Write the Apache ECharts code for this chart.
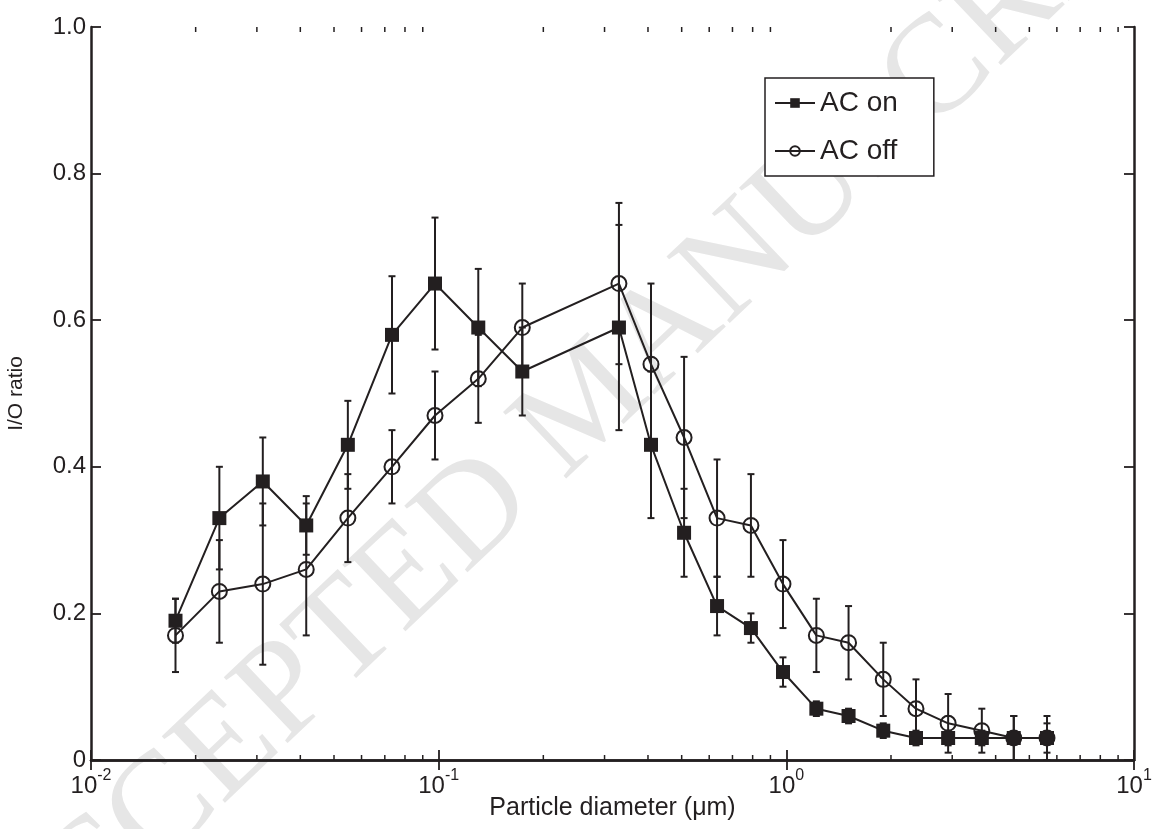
<!DOCTYPE html>
<html>
<head>
<meta charset="utf-8">
<script src="https://cdn.jsdelivr.net/npm/echarts@6/dist/echarts.min.js"></script>
<style>
html,body{margin:0;padding:0;background:#fff;}
#chart{width:1152px;height:829px;}
</style>
</head>
<body>
<div id="chart"></div>
<script>
// Particle diameters (µm)
const diameters = [0.0175, 0.0234, 0.0312, 0.0416, 0.0548, 0.0734, 0.0976, 0.130, 0.174,
  0.330, 0.408, 0.508, 0.632, 0.791, 0.978, 1.22, 1.51, 1.90, 2.36, 2.92, 3.65, 4.51, 5.62];

// AC on: I/O ratio and error-bar limits
const acOn     = [0.19, 0.33, 0.38, 0.32, 0.43, 0.58, 0.65, 0.59, 0.53, 0.59, 0.43, 0.31, 0.21, 0.18, 0.12, 0.07, 0.06, 0.04, 0.03, 0.03, 0.03, 0.03, 0.03];
const acOnLow  = [0.16, 0.26, 0.32, 0.28, 0.37, 0.50, 0.56, 0.51, 0.47, 0.45, 0.33, 0.25, 0.17, 0.16, 0.10, 0.06, 0.05, 0.03, 0.02, 0.02, 0.02, 0.00, 0.01];
const acOnHigh = [0.22, 0.40, 0.44, 0.36, 0.49, 0.66, 0.74, 0.67, 0.59, 0.73, 0.53, 0.37, 0.25, 0.20, 0.14, 0.08, 0.07, 0.05, 0.04, 0.04, 0.04, 0.06, 0.05];

// AC off: I/O ratio and error-bar limits
const acOff     = [0.17, 0.23, 0.24, 0.26, 0.33, 0.40, 0.47, 0.52, 0.59, 0.65, 0.54, 0.44, 0.33, 0.32, 0.24, 0.17, 0.16, 0.11, 0.07, 0.05, 0.04, 0.03, 0.03];
const acOffLow  = [0.12, 0.16, 0.13, 0.17, 0.27, 0.35, 0.41, 0.46, 0.53, 0.54, 0.43, 0.33, 0.25, 0.25, 0.18, 0.12, 0.11, 0.06, 0.03, 0.01, 0.01, 0.00, 0.00];
const acOffHigh = [0.22, 0.30, 0.35, 0.35, 0.39, 0.45, 0.53, 0.58, 0.65, 0.76, 0.65, 0.55, 0.41, 0.39, 0.30, 0.22, 0.21, 0.16, 0.11, 0.09, 0.07, 0.06, 0.06];

// Axis ticks / labels
const yTicks = [0, 0.2, 0.4, 0.6, 0.8, 1.0];
const xMajorExponents = [-2, -1, 0, 1];
const minorMultipliers = [2, 3, 4, 5, 6, 7, 8, 9];

const INK = '#231f20';
const FONT = 'Liberation Sans, Arial, Helvetica, sans-serif';

const pairs = (xs, ys) => xs.map((x, i) => [x, ys[i]]);
const errData = (xs, lo, hi) => xs.map((x, i) => [x, lo[i], hi[i]]);

const minorTicks = [];
for (let e = xMajorExponents[0]; e < xMajorExponents[xMajorExponents.length - 1]; e++) {
  minorMultipliers.forEach(m => minorTicks.push([m * Math.pow(10, e)]));
}

function errorBarRender(params, api) {
  const x = api.value(0), lo = api.value(1), hi = api.value(2);
  const p1 = api.coord([x, lo]);
  const p2 = api.coord([x, hi]);
  const w = 3.5;
  const st = { stroke: INK, lineWidth: 2 };
  return {
    type: 'group',
    children: [
      { type: 'line', shape: { x1: p1[0], y1: p1[1], x2: p2[0], y2: p2[1] }, style: st },
      { type: 'line', shape: { x1: p1[0] - w, y1: p1[1], x2: p1[0] + w, y2: p1[1] }, style: st },
      { type: 'line', shape: { x1: p2[0] - w, y1: p2[1], x2: p2[0] + w, y2: p2[1] }, style: st }
    ]
  };
}

function minorTickRender(params, api) {
  const x = api.value(0);
  const pb = api.coord([x, 0]);
  const pt = api.coord([x, 1]);
  const len = 5;
  const st = { stroke: INK, lineWidth: 1.5 };
  return {
    type: 'group',
    children: [
      { type: 'line', shape: { x1: pb[0], y1: pb[1], x2: pb[0], y2: pb[1] - len }, style: st },
      { type: 'line', shape: { x1: pt[0], y1: pt[1], x2: pt[0], y2: pt[1] + len }, style: st }
    ]
  };
}

const chart = echarts.init(document.getElementById('chart'), null, { renderer: 'canvas' });

const axisCommonX = {
  type: 'log',
  logBase: 10,
  min: Math.pow(10, xMajorExponents[0]),
  max: Math.pow(10, xMajorExponents[xMajorExponents.length - 1]),
  splitLine: { show: false },
  axisLine: { show: true, lineStyle: { color: INK, width: 2.5 } },
  axisTick: { show: true, inside: true, length: 10, lineStyle: { color: INK, width: 1.8 } }
};
const axisCommonY = {
  type: 'value',
  min: yTicks[0],
  max: yTicks[yTicks.length - 1],
  interval: 0.2,
  splitLine: { show: false },
  axisLine: { show: true, lineStyle: { color: INK, width: 2.5 } },
  axisTick: { show: true, inside: true, length: 10, lineStyle: { color: INK, width: 1.8 } }
};

const option = {
  backgroundColor: '#ffffff',
  animation: false,
  textStyle: { fontFamily: FONT },
  graphic: [{
    type: 'text',
    z: -10,
    silent: true,
    x: 590,
    y: 405,
    rotation: 0.76,
    style: {
      text: 'ACCEPTED MANUSCRIPT',
      fill: '#e6e6e6',
      font: '140px "Liberation Serif", "DejaVu Serif", serif',
      textAlign: 'center',
      textVerticalAlign: 'middle'
    }
  }],
  grid: { left: 91, right: 18, top: 27, bottom: 69, show: false, containLabel: false, outerBoundsMode: 'none' },
  legend: {
    show: true,
    left: 765,
    top: 78,
    orient: 'vertical',
    data: ['AC on', 'AC off'],
    backgroundColor: '#ffffff',
    borderColor: INK,
    borderWidth: 1.5,
    borderRadius: 0,
    padding: [10, 36, 10, 9],
    itemGap: 18,
    itemWidth: 40,
    itemHeight: 12,
    textStyle: { fontSize: 28, color: INK, fontFamily: FONT, lineHeight: 30 }
  },
  xAxis: [
    Object.assign({}, axisCommonX, {
      position: 'bottom',
      name: 'Particle diameter (\u03bcm)',
      nameLocation: 'middle',
      nameGap: 36,
      nameMoveOverlap: false,
      nameTextStyle: { fontSize: 25, color: INK, fontFamily: FONT },
      axisLabel: {
        show: true,
        margin: 8,
        color: INK,
        formatter: v => '{b|10}{e|' + Math.round(Math.log10(v)) + '}',
        rich: {
          b: { fontSize: 24, color: INK, fontFamily: FONT, verticalAlign: 'bottom', lineHeight: 30 },
          e: { fontSize: 16, color: INK, fontFamily: FONT, verticalAlign: 'top', lineHeight: 30 }
        }
      }
    }),
    Object.assign({}, axisCommonX, {
      position: 'top',
      axisLabel: { show: false }
    })
  ],
  yAxis: [
    Object.assign({}, axisCommonY, {
      position: 'left',
      name: 'I/O ratio',
      nameLocation: 'middle',
      nameGap: 64,
      nameRotate: 90,
      nameTextStyle: { fontSize: 21, color: INK, fontFamily: FONT },
      axisLabel: {
        show: true,
        margin: 5,
        fontSize: 24,
        color: INK,
        fontFamily: FONT,
        formatter: v => (v === 0 ? '0' : v.toFixed(1))
      }
    }),
    Object.assign({}, axisCommonY, {
      position: 'right',
      axisLabel: { show: false }
    })
  ],
  series: [
    {
      name: 'minor ticks',
      type: 'custom',
      silent: true,
      renderItem: minorTickRender,
      data: minorTicks,
      encode: { x: 0 },
      clip: false,
      z: 1
    },
    {
      name: 'AC on err',
      type: 'custom',
      silent: true,
      renderItem: errorBarRender,
      data: errData(diameters, acOnLow, acOnHigh),
      encode: { x: 0, y: [1, 2] },
      z: 2
    },
    {
      name: 'AC off err',
      type: 'custom',
      silent: true,
      renderItem: errorBarRender,
      data: errData(diameters, acOffLow, acOffHigh),
      encode: { x: 0, y: [1, 2] },
      z: 2
    },
    {
      name: 'AC on',
      type: 'line',
      data: pairs(diameters, acOn),
      symbol: 'rect',
      symbolSize: 14,
      lineStyle: { color: INK, width: 2 },
      itemStyle: { color: INK, borderColor: INK, borderWidth: 0 },
      z: 3
    },
    {
      name: 'AC off',
      type: 'line',
      data: pairs(diameters, acOff),
      symbol: 'circle',
      symbolSize: 15,
      lineStyle: { color: INK, width: 2 },
      itemStyle: { color: 'rgba(255,255,255,0)', borderColor: INK, borderWidth: 2 },
      z: 3
    }
  ]
};

chart.setOption(option);
</script>
</body>
</html>
